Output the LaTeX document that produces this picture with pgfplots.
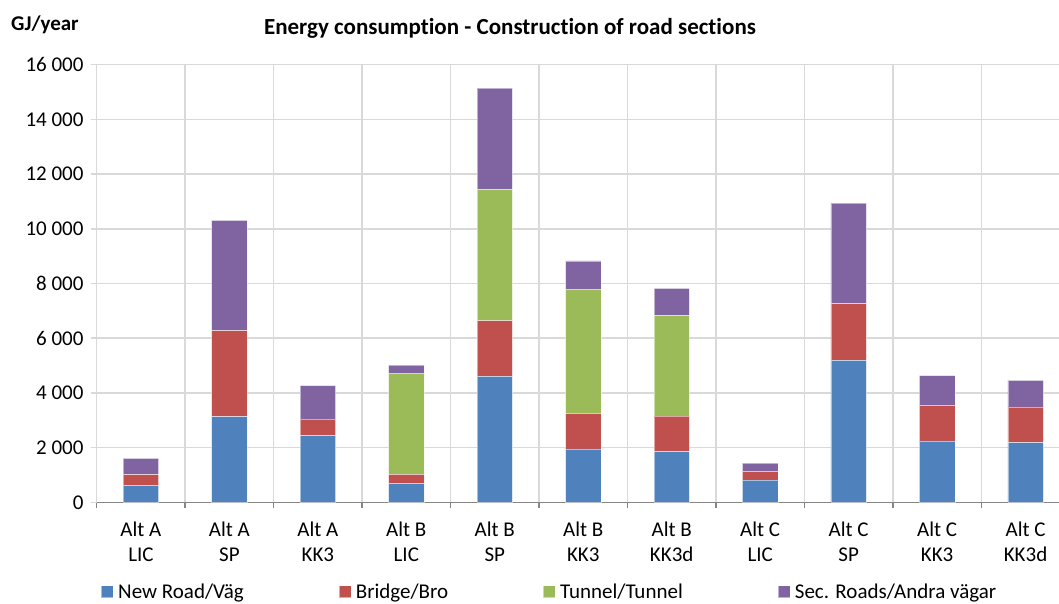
\documentclass[border=0pt]{standalone}
\usepackage{fontspec}
\setmainfont{Carlito}[Ligatures={NoCommon}]
\usepackage{pgfplots}
\usepackage{pgfplotstable}
\pgfplotsset{compat=1.18}

\definecolor{road}{HTML}{4F81BD}
\definecolor{bridge}{HTML}{C0504D}
\definecolor{tunnel}{HTML}{9BBB59}
\definecolor{secroad}{HTML}{8064A2}
\definecolor{gridgray}{HTML}{D9D9D9}
\definecolor{axisgray}{HTML}{868686}

% Energy use per alternative, GJ/year
\pgfplotstableread{
idx road bridge tunnel secroad
0   620  390  0    600
1   3130 3145 0    4035
2   2440 600  0    1230
3   690  330  3705 290
4   4605 2035 4805 3695
5   1950 1305 4535 1035
6   1850 1305 3680 990
7   815  320  0    295
8   5190 2070 0    3680
9   2250 1295 0    1085
10  2180 1305 0    975
}\energy

\newcommand\lblfont{\fontsize{21}{25}\selectfont}

\begin{document}
\begin{tikzpicture}[x=1pt,y=1pt]
\begin{axis}[
  at={(96.7pt,100.7pt)}, anchor=south west,
  scale only axis, width=962.3pt, height=437.6pt,
  ybar stacked, bar width=0.4,
  xmin=-0.5, xmax=10.378,
  ymin=0, ymax=16000,
  ytick={0,2000,...,16000},
  scaled y ticks=false,
  /pgf/number format/.cd, 1000 sep={\ }, assume math mode=true, /pgfplots/.cd,
  yticklabel style={font=\lblfont, inner sep=0pt, xshift=-7pt},
  xtick={-0.5,0.5,...,9.5},
  xticklabels={},
  extra x ticks={0,1,...,10},
  extra x tick labels={{Alt A\\LIC},{Alt A\\SP},{Alt A\\KK3},{Alt B\\LIC},{Alt B\\SP},{Alt B\\KK3},{Alt B\\KK3d},{Alt C\\LIC},{Alt C\\SP},{Alt C\\KK3},{Alt C\\KK3d}},
  extra x tick style={grid=none, major tick length=0pt,
    xticklabel style={align=center, font=\lblfont, inner sep=0pt, yshift=-19pt}},
  axis x line=bottom, axis y line=left,
  x axis line style={-, draw=axisgray, line width=1.5pt},
  y axis line style={-, draw=gridgray, line width=1.5pt},
  tick align=outside,
  major tick length=6pt,
  tick style={line width=1.5pt},
  xtick style={draw=axisgray},
  ytick style={draw=gridgray},
  xmajorgrids=true, ymajorgrids=true,
  major x grid style={draw=gridgray, line width=1.5pt},
  major y grid style={draw=gridgray, line width=1.5pt},
  legend columns=4,
  legend style={at={(0.0045,-0.204)}, anchor=west, draw=none, fill=none,
    inner sep=0pt, font=\lblfont, nodes={inner sep=0pt},
    /tikz/every odd column/.append style={column sep=4.5pt},
    /tikz/every even column/.append style={column sep=95pt}},
  legend cell align=left,
  legend image code/.code={\fill[#1] (0pt,-6pt) rectangle (12pt,6pt);},
  every axis plot/.append style={draw=white, draw opacity=0.5, line width=0.5pt},
]
\addplot[fill=road] table[x=idx,y=road]{\energy};
\addplot[fill=bridge] table[x=idx,y=bridge]{\energy};
\addplot[fill=tunnel] table[x=idx,y=tunnel]{\energy};
\addplot[fill=secroad] table[x=idx,y=secroad]{\energy};
\legend{New Road/Väg,Bridge/Bro,Tunnel/Tunnel,Sec. Roads/Andra vägar}
\end{axis}
\node[font=\fontsize{23}{27}\selectfont\bfseries] at (510,575) {Energy consumption - Construction of road sections};
\node[font=\fontsize{21}{24}\selectfont\bfseries, anchor=west, inner sep=0pt] at (11,578) {GJ/year};
\pgfresetboundingbox
\useasboundingbox (0,0) rectangle (1059,603);
\end{tikzpicture}
\end{document}
